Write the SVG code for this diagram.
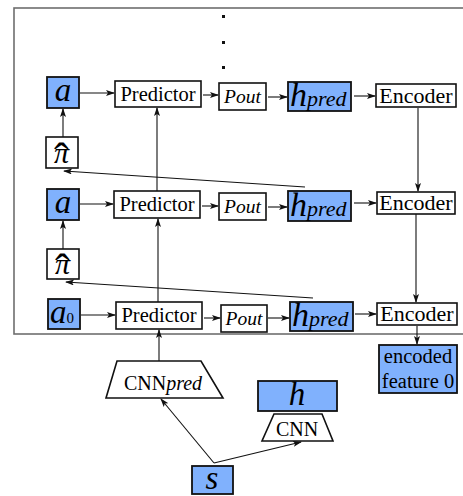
<svg xmlns="http://www.w3.org/2000/svg" width="463" height="496" viewBox="0 0 463 496">
  <style>
    .box { fill: #ffffff; stroke: #111; stroke-width: 1.6; }
    .blue { fill: #80b1fd; stroke: #111; stroke-width: 1.8; }
    .frame { fill: none; stroke: #6e6e6e; stroke-width: 1.6; }
    .t { fill: #000; }
    .it { font-style: italic; }
    .conn line, .conn polyline { stroke: #111; stroke-width: 1.1; fill: none; marker-end: url(#ah); }
  </style>
  <defs>
    <marker id="ah" markerWidth="9" markerHeight="6" refX="8" refY="3" orient="auto" markerUnits="userSpaceOnUse">
      <path d="M0,0 L9,3 L0,6 L2,3 z" fill="#111"/>
    </marker>
  </defs>

  <rect class="frame" x="14" y="8" width="462" height="326"/>

  <!-- continuation dots -->
  <g id="dots" fill="#111">
    <rect x="222" y="15" width="3" height="3"/>
    <rect x="222" y="41" width="3" height="3"/>
    <rect x="222" y="66" width="3" height="3"/>
  </g>

  <g class="conn" id="connectors">
    <!-- row 1 -->
    <line x1="80" y1="93" x2="114" y2="93"/>
    <line x1="203" y1="95" x2="218" y2="95"/>
    <line x1="268" y1="97" x2="287" y2="97"/>
    <line x1="354" y1="96" x2="375" y2="96"/>
    <line x1="63" y1="137" x2="63" y2="109"/>
    <line x1="157" y1="191" x2="157" y2="108"/>
    <line x1="418" y1="108" x2="418" y2="191"/>
    <line x1="305" y1="187" x2="64" y2="171"/>
    <!-- row 2 -->
    <line x1="80" y1="204" x2="113" y2="204"/>
    <line x1="202" y1="206" x2="218" y2="206"/>
    <line x1="268" y1="207" x2="287" y2="207"/>
    <line x1="354" y1="203" x2="376" y2="203"/>
    <line x1="63" y1="249" x2="63" y2="221"/>
    <line x1="158" y1="302" x2="158" y2="219"/>
    <line x1="416" y1="214" x2="416" y2="302"/>
    <line x1="313" y1="298" x2="66" y2="282"/>
    <!-- row 3 -->
    <line x1="81" y1="315" x2="115" y2="315"/>
    <line x1="204" y1="318" x2="220" y2="318"/>
    <line x1="268" y1="318" x2="289" y2="318"/>
    <line x1="355" y1="314" x2="376" y2="314"/>
    <line x1="417" y1="326" x2="417" y2="344"/>
    <!-- inputs -->
    <line x1="159" y1="361" x2="159" y2="330"/>
    <polyline points="214,463 161,399"/>
    <polyline points="214,463 301,442"/>
  </g>

  <g font-family="'Liberation Serif', 'DejaVu Serif', serif">
  <!-- row 1 -->
  <g id="a1"><rect class="blue" x="47" y="77" width="32" height="31"/><text class="t it" x="63" y="101" font-size="33" text-anchor="middle">a</text></g>
  <g id="pred1"><rect class="box" x="115" y="81" width="86" height="26"/><text class="t" x="158" y="101" font-size="20.5" text-anchor="middle">Predictor</text></g>
  <g id="pout1"><rect class="box" x="219" y="83" width="47" height="27"/><text class="t it" x="242.5" y="103" font-size="19.5" text-anchor="middle">Pout</text></g>
  <g id="hpred1"><rect class="blue" x="288" y="82" width="63" height="29"/><text class="t it" x="290" y="106" font-size="34">h<tspan font-size="22">pred</tspan></text></g>
  <g id="enc1"><rect class="box" x="376" y="84" width="80" height="23"/><text class="t" x="416" y="103" font-size="22" text-anchor="middle">Encoder</text></g>
  <g id="pi1"><rect class="box" x="46" y="137" width="32" height="31"/><text class="t it" x="54" y="163" font-size="30">π<tspan font-style="normal" font-size="44" dx="-15" dy="10">ˆ</tspan></text></g>

  <!-- row 2 -->
  <g id="a2"><rect class="blue" x="47" y="189" width="32" height="31"/><text class="t it" x="63" y="213" font-size="33" text-anchor="middle">a</text></g>
  <g id="pred2"><rect class="box" x="114" y="191" width="86" height="27"/><text class="t" x="157" y="211" font-size="20.5" text-anchor="middle">Predictor</text></g>
  <g id="pout2"><rect class="box" x="219" y="193" width="47" height="27"/><text class="t it" x="242.5" y="213" font-size="19.5" text-anchor="middle">Pout</text></g>
  <g id="hpred2"><rect class="blue" x="288" y="191" width="63" height="30"/><text class="t it" x="290" y="216" font-size="34">h<tspan font-size="22">pred</tspan></text></g>
  <g id="enc2"><rect class="box" x="377" y="192" width="78" height="22"/><text class="t" x="416" y="210" font-size="22" text-anchor="middle">Encoder</text></g>
  <g id="pi2"><rect class="box" x="47" y="249" width="32" height="30"/><text class="t it" x="55" y="274" font-size="30">π<tspan font-style="normal" font-size="44" dx="-15" dy="10">ˆ</tspan></text></g>

  <!-- row 3 -->
  <g id="a0"><rect class="blue" x="48" y="299" width="32" height="30"/><text class="t it" x="50" y="323" font-size="33">a<tspan font-style="normal" font-size="15">0</tspan></text></g>
  <g id="pred3"><rect class="box" x="116" y="302" width="86" height="27"/><text class="t" x="159" y="322" font-size="20.5" text-anchor="middle">Predictor</text></g>
  <g id="pout3"><rect class="box" x="221" y="305" width="46" height="27"/><text class="t it" x="244" y="325" font-size="19.5" text-anchor="middle">Pout</text></g>
  <g id="hpred3"><rect class="blue" x="290" y="302" width="63" height="29"/><text class="t it" x="292" y="326" font-size="34">h<tspan font-size="22">pred</tspan></text></g>
  <g id="enc3"><rect class="box" x="377" y="303" width="80" height="22"/><text class="t" x="417" y="321" font-size="22" text-anchor="middle">Encoder</text></g>

  <!-- output -->
  <g id="encoded"><rect class="blue" x="379" y="345" width="78" height="48"/>
    <text class="t" x="418" y="363" font-size="20.5" text-anchor="middle">encoded</text>
    <text class="t" x="418" y="388" font-size="20.5" text-anchor="middle">feature 0</text></g>

  <!-- encoders from the state image -->
  <g id="cnnpred"><polygon class="box" points="117,361 201,361 223,398 106,398" stroke-width="2"/><text class="t" x="163" y="390" font-size="20" text-anchor="middle">CNN<tspan class="it">pred</tspan></text></g>
  <g id="h"><rect class="blue" x="258" y="381" width="79" height="30"/><text class="t it" x="297" y="405" font-size="33" text-anchor="middle">h</text></g>
  <g id="cnn"><polygon class="box" points="274,414 322,414 333,441 262,441"/><text class="t" x="297" y="436" font-size="20" text-anchor="middle">CNN</text></g>
  <g id="s"><rect class="blue" x="192" y="466" width="41" height="28"/><text class="t it" x="212" y="489" font-size="33" text-anchor="middle">s</text></g>
  </g>
</svg>
